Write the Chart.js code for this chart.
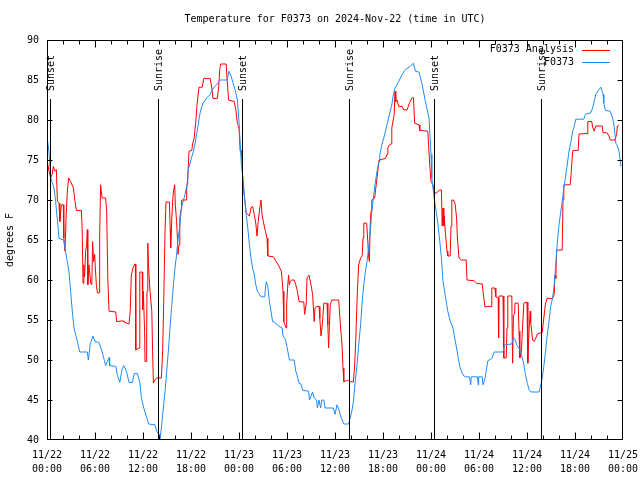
<!DOCTYPE html>
<html><head><meta charset="utf-8">
<script src="https://cdn.jsdelivr.net/npm/chart.js@4/dist/chart.umd.min.js"></script>
<style>html,body{margin:0;padding:0;background:#fff}canvas{display:block}</style>
</head><body>
<canvas id="c" width="640" height="480"></canvas>
<script>
const FONT = "'DejaVu Sans Mono', 'Liberation Mono', monospace";
const titleText = 'Temperature for F0373 on 2024-Nov-22 (time in UTC)';
const yAxisLabel = 'degrees F';
const seriesNames = ['F0373 Analysis', 'F0373'];
const seriesColors = ['#ff0000', '#1e8cf5'];
const dayLabels = ['11/22', '11/23', '11/24', '11/25'];
const timeLabels = ['00:00', '06:00', '12:00', '18:00'];

// hours since 11/22 00:00 UTC
const analysisHours = [0,0.25,0.46,0.65,0.8,1.0,1.17,1.3,1.5,1.6,1.8,2.04,2.1,2.25,2.4,2.54,2.7,2.96,3.3,3.5,3.67,4.3,4.4,4.5,4.6,4.7,4.83,4.96,5.04,5.1,5.25,5.46,5.6,5.7,5.83,5.96,6.04,6.17,6.3,6.5,6.58,6.7,6.8,6.9,7.33,7.46,7.6,7.75,8.6,8.7,9.5,9.6,10.25,10.4,10.54,10.75,10.96,11.05,11.1,11.5,11.6,11.9,11.96,12.04,12.2,12.25,12.375,12.46,12.5,12.6,12.7,12.875,13.1,13.2,13.3,13.5,13.7,14.3,14.46,14.6,14.75,14.875,15.3,15.4,15.46,15.6,15.7,15.8,15.96,16.04,16.2,16.3,16.375,16.5,16.6,16.75,16.83,17.4,17.46,17.6,17.75,18.1,18.2,18.4,18.6,18.75,19,19.4,19.6,20.4,20.6,20.75,21.3,21.46,21.6,21.7,22.4,22.5,22.7,23.4,23.6,23.8,24,24.1,24.15,24.3,24.46,24.6,24.8,24.875,25.3,25.5,25.7,25.9,26.1,26.25,26.4,26.6,26.75,26.875,27.1,27.3,27.5,27.6,28.3,28.6,28.9,29.1,29.3,29.5,29.6,29.9,29.96,30.1,30.2,30.3,30.4,30.6,30.9,31.1,31.3,31.5,32.1,32.2,32.4,32.5,32.75,33,33.2,33.4,33.5,33.75,34,34.1,34.25,34.4,34.6,35,35.1,35.2,35.4,35.6,36.46,36.7,36.875,37,37.1,37.7,37.9,38.3,38.46,38.6,38.8,38.96,39.2,39.4,39.5,39.6,39.96,40.1,40.2,40.3,40.4,40.5,40.6,40.96,41.04,41.25,41.5,42.3,42.5,42.6,42.8,43,43.1,43.4,43.5,43.6,43.75,43.96,44.4,44.6,45,45.3,45.6,45.8,45.96,46.5,46.6,47.6,47.75,47.9,48,48.25,48.4,48.7,49.1,49.3,49.4,49.5,49.6,49.65,49.8,50,50.1,50.4,50.5,50.6,50.8,51,51.2,51.3,51.5,51.8,52.4,52.5,53.4,53.7,54.4,54.6,54.75,55,55.5,55.6,56,56.1,56.4,56.45,56.5,57,57.1,57.4,57.5,57.6,58.1,58.2,58.3,58.45,58.5,58.9,59,59.1,59.3,59.4,59.6,60,60.1,60.25,60.4,60.46,60.7,60.875,61.1,61.3,61.7,61.9,62.1,62.3,62.5,63.2,63.4,63.5,63.6,63.7,64.4,64.5,64.6,65.4,65.5,65.7,65.75,66.4,66.5,67.5,67.6,68.1,68.2,68.4,68.6,69.4,69.5,70,70.25,70.4,71,71.2,71.3,71.5];
const analysisTemps = [75,73.6,72.8,73.2,74.2,73.6,73.8,69.8,69.6,67.3,69.4,69.4,65.25,63.6,68.2,71,72.75,72.3,71.5,69.8,68.7,68.7,66.3,59.6,61.9,60.4,63.6,64.4,66.3,59.4,61.9,59.6,59.4,64.8,62.3,63.2,61.5,59.4,58.4,58.4,65.25,71.9,71,70.25,70.25,68.6,60.25,56.1,56,54.8,54.9,54.75,54.5,56.1,60.6,61.5,62,62,51.25,51.5,61,61,56.3,58.6,53.6,49.8,49.8,53.6,58.6,64.6,61.5,58.6,56.1,51.1,47.1,47.5,47.75,47.75,51.3,57.75,66.1,69.75,69.75,66.4,64,67.75,69.8,71,71.9,69.4,67.3,65.25,63.2,64.4,67.75,68.8,70,70,71.5,72.75,76.1,76.2,77,77.75,79.8,81.9,84.1,84.1,85.2,85.2,84,82.7,82.7,84.2,86.3,87,87,85.25,82.5,82.3,81.3,79.6,79,79,76.1,76.2,72.75,71,69.4,68.4,68,69,69.2,68.2,67.1,65.5,67.3,69,70,68.2,67,66.1,65.25,63,62.9,62.4,61.9,61.5,61.1,58.6,54.8,54,57,59.4,60.6,59.4,59.8,60,60,59.4,58.6,57.3,57.25,55.7,57,60.25,60.6,59.4,58.2,54.8,56.5,56.7,56.7,55.25,53,54.2,57.1,57.1,54.4,51.5,56.9,57.5,57.5,54,51.9,49,47.3,47.5,47.3,47.25,49.4,52.75,58.6,61.9,62.75,63,65.25,67.1,67.1,64.8,63,62.3,66.9,68.6,70,70.25,71,72.75,75,75.2,75.7,76.5,76.9,77,79,80.7,83.6,82.3,82.5,81.7,81.7,81.25,81.25,82.1,82.75,82.8,79.6,79.4,78.7,78.6,76,73.5,72.3,71.9,70.9,70.9,71.25,71.25,66.75,69,66.75,68,65.9,63.6,63,63,66.75,70,70,69.6,67.75,65.25,62.75,62.5,62.5,60,59.9,59.6,59.5,57.75,56.6,56.7,56.7,59,59,57.9,57.75,52.75,58,58,50.25,50.25,54,58,58,49.6,55.6,55.7,57.1,57.1,53.6,50.25,51.1,53.2,57.1,57.25,49.6,53.6,56.1,54.75,52.5,52.3,52.75,53.25,53.4,53.4,55.25,57,57.7,57.7,58.2,60.6,60.2,63.75,63.75,70,71.9,71.9,73.1,76,76.2,76.2,78.25,78.3,79.8,79.8,79.1,78.6,79.25,79.25,78.4,78.4,78,77.5,77.5,78.2,79.25,79.4];

const stationHours = [0,0.25,0.46,0.875,1.08,1.3,1.5,2.1,2.33,2.54,2.75,2.96,3.17,3.375,3.8,4.1,5.04,5.17,5.4,5.75,6,6.5,6.9,7.33,7.75,7.83,8.6,8.8,9.1,9.4,9.6,9.96,10.25,10.67,10.9,11.3,11.6,11.8,12.1,12.4,12.7,13.5,13.7,14,14.1,14.3,14.5,14.75,14.96,15.2,15.4,15.6,15.8,16,16.2,16.4,16.6,16.8,17.25,17.5,17.6,17.875,18.1,18.3,18.5,18.7,18.9,19.1,19.3,19.5,19.96,20.4,20.8,21.2,21.6,22.5,22.75,23,23.5,23.8,24,24.2,24.3,24.5,24.7,24.9,25.1,25.3,25.5,25.7,25.9,26.1,26.3,26.75,27.2,27.4,27.6,27.8,28,28.2,28.4,29,29.4,29.5,29.8,30.1,30.3,30.9,31.1,31.3,31.5,31.75,31.96,32.7,32.8,33,33.2,33.4,33.7,33.8,34,34.2,34.35,34.6,34.75,35.8,36,36.25,36.46,36.7,37.1,37.7,37.9,38.1,38.3,38.5,38.75,38.96,39.2,39.4,39.6,39.8,40,40.2,40.4,40.6,40.8,41,41.25,41.5,41.6,41.875,42.1,42.3,42.5,42.7,42.9,43.1,43.3,43.5,43.96,44.4,44.8,45.4,45.8,46.04,46.5,46.9,47.3,47.75,47.9,48,48.1,48.4,48.7,48.875,49.1,49.3,49.5,49.7,49.96,50.1,50.3,50.5,50.75,50.96,51.2,51.4,51.6,51.8,52,52.3,52.8,52.96,53.04,53.8,53.9,53.96,54.4,54.5,54.75,54.96,55.1,55.6,55.9,57,57.2,58.1,58.3,58.5,58.7,59,59.3,59.6,59.8,60.04,60.25,60.5,61.5,61.7,61.9,62.1,62.3,62.5,62.75,62.96,63.2,63.4,63.6,63.8,64,64.25,64.4,64.6,64.8,65,65.25,65.5,65.7,65.875,66.1,67.1,67.3,67.96,68.2,68.4,68.6,69,69.25,69.5,69.6,69.8,70.4,70.7,70.9,71.1,71.3,71.5,71.75];
const stationTemps = [78,76,72.8,71.5,69.8,67.5,65.2,65,63.5,62.3,61,58.5,56,54,52.3,51,51,50,52,53,52.3,52.2,51,49.3,50.3,49.3,49.2,48.1,47.2,48.9,49.3,48.5,47.2,47.2,48.3,48.3,47.2,45.3,44,43,42,41.9,41.1,40.7,40,41.5,43.6,46,48.6,51.5,54.4,56.9,59.4,61.5,63.2,65.25,66.7,69,70.7,71.9,73.6,74.6,75.4,76.1,77,78.2,79.4,80.7,81.5,82.1,82.75,83.2,84,84.4,85,85,86.1,85.5,83.8,82.5,79.8,76.1,74.4,72.75,70.25,68.2,66.5,64.4,62.75,61.5,60.7,59.4,58.6,57.9,57.9,59.8,59.2,57.3,56.1,54.8,54.75,54.2,54,53,52.6,51.1,50,50,48.6,48,47.1,47,46.2,46.1,45,45.5,46,45.25,45,44,45,44,45,45,44,44,43.2,44.4,43.9,43,42,42,42.75,43.6,44.8,47,49.4,51.9,54.4,57.3,59.4,61.1,62.3,64,65.9,68.6,70.25,71.9,73.6,74.8,75.7,77,77.75,78.6,79.4,80.25,81.1,81.9,83.2,84,84.8,85.7,86.3,86.7,87.1,86.1,86,84.4,82.3,80.25,77.5,75.7,72.75,70.25,68.2,66.9,64.8,62.75,59.8,58.6,56.9,56.1,55.25,54.6,54,52.75,51.5,50.25,49.2,48.6,48.1,47.9,47.9,46.9,47.9,47.9,46.9,47.9,47.9,46.9,47.7,49,49.9,50.2,51,51,51.9,52,52.8,52.6,51.9,51.5,50.7,49.5,48.2,47.1,46.3,46,46,46.75,47.75,49.2,50.9,52.9,54.8,56.7,57.75,59.4,61.9,64.8,66.9,68.75,69.8,71.5,72.75,74.2,76.1,77.3,78.6,79.1,80.1,80.1,80.7,80.9,81.5,82.3,83.25,83.8,84.1,83.2,82.1,81.2,81.1,80.25,79.2,77.1,76.8,76.1,74.2];

const sunHours = [0.32, 13.88, 24.32, 37.8, 48.32, 61.8];
const sunLabels = ['Sunset', 'Sunrise', 'Sunset', 'Sunrise', 'Sunset', 'Sunrise'];

const toPoints = (xs, ys) => xs.map((h, i) => ({x: h, y: ys[i]}));

const frameTicks = {
  id: 'frameTicks',
  afterDatasetsDraw(chart) {
    const {ctx, chartArea: a, scales: {x, y}} = chart;
    const L = Math.round(a.left) + 0.5, R = Math.round(a.right) - 0.5;
    const T = Math.round(a.top) + 0.5, B = Math.round(a.bottom) - 0.5;
    ctx.save();
    ctx.strokeStyle = '#000';
    ctx.lineWidth = 1;
    ctx.beginPath();
    for (let h = x.min; h <= x.max; h += 2) {
      const px = Math.min(R, Math.round(x.getPixelForValue(h)) + 0.5);
      const len = (h % 6 === 0) ? 7 : 4;
      ctx.moveTo(px, B); ctx.lineTo(px, B - len);
      ctx.moveTo(px, T); ctx.lineTo(px, T + len);
    }
    for (let v = y.min; v <= y.max; v += 5) {
      const py = Math.min(B, Math.round(y.getPixelForValue(v)) + 0.5);
      ctx.moveTo(L, py); ctx.lineTo(L + 5, py);
      ctx.moveTo(R, py); ctx.lineTo(R - 5, py);
    }
    ctx.stroke();
    ctx.strokeRect(L, T, R - L, B - T);
    ctx.restore();
  }
};

const sunMarks = {
  id: 'sunMarks',
  afterDatasetsDraw(chart) {
    const {ctx, chartArea: a, scales: {x}} = chart;
    ctx.save();
    ctx.strokeStyle = '#000';
    ctx.fillStyle = '#000';
    ctx.lineWidth = 1;
    ctx.font = '10px ' + FONT;
    sunHours.forEach((h, i) => {
      const px = Math.round(x.getPixelForValue(h)) + 0.5;
      ctx.beginPath();
      ctx.moveTo(px, a.top + 59);
      ctx.lineTo(px, a.bottom);
      ctx.stroke();
      ctx.save();
      ctx.translate(px + 1, a.top + 51);
      ctx.rotate(-Math.PI / 2);
      ctx.textAlign = 'left';
      ctx.textBaseline = 'middle';
      ctx.fillText(sunLabels[i], 0, 0);
      ctx.restore();
    });
    ctx.restore();
  }
};

const insideLegend = {
  id: 'insideLegend',
  afterDraw(chart) {
    const {ctx, chartArea: a} = chart;
    ctx.save();
    ctx.font = '10px ' + FONT;
    ctx.textAlign = 'right';
    ctx.textBaseline = 'middle';
    [0, 1].forEach((k, row) => {
      const ds = chart.data.datasets[k];
      const yy = a.top + 9.5 + row * 12.5;
      ctx.fillStyle = '#000';
      ctx.fillText(ds.label, a.right - 49, yy);
      ctx.strokeStyle = ds.borderColor;
      ctx.lineWidth = 1;
      ctx.beginPath();
      const ly = Math.round(yy) + 0.5;
      ctx.moveTo(a.right - 41, ly);
      ctx.lineTo(a.right - 13, ly);
      ctx.stroke();
    });
    ctx.restore();
  }
};

new Chart(document.getElementById('c'), {
  type: 'line',
  data: {
    datasets: [
      {label: seriesNames[0], data: toPoints(analysisHours, analysisTemps), borderColor: seriesColors[0], backgroundColor: seriesColors[0], borderWidth: 1, pointRadius: 0, tension: 0, fill: false, order: 1},
      {label: seriesNames[1], data: toPoints(stationHours, stationTemps), borderColor: seriesColors[1], backgroundColor: seriesColors[1], borderWidth: 1, pointRadius: 0, tension: 0, fill: false, order: 0}
    ]
  },
  options: {
    responsive: false,
    animation: false,
    events: [],
    layout: {padding: {left: 0, right: 17, top: 0, bottom: 0}},
    plugins: {
      legend: {display: false},
      tooltip: {enabled: false},
      title: {
        display: true, text: titleText, color: '#000', fullSize: false,
        font: {family: FONT, size: 10, weight: 'normal', lineHeight: 1.2},
        padding: {top: 13, bottom: 15}
      }
    },
    scales: {
      x: {
        type: 'linear', min: 0, max: 72,
        grid: {display: false, drawTicks: false},
        border: {display: false},
        ticks: {
          stepSize: 6, autoSkip: false, maxRotation: 0, minRotation: 0, padding: 8,
          color: '#000', font: {family: FONT, size: 10, lineHeight: 1.45},
          callback: (v) => {
            const d = Math.floor(v / 24), t = (v % 24) / 6;
            return [dayLabels[d], timeLabels[t]];
          }
        },
        afterFit: (s) => { s.height = 40; s.paddingLeft = 0; s.paddingRight = 0; }
      },
      y: {
        type: 'linear', min: 40, max: 90,
        grid: {display: false, drawTicks: false},
        border: {display: false},
        ticks: {stepSize: 5, padding: 8, color: '#000', font: {family: FONT, size: 10}},
        title: {display: true, text: yAxisLabel, color: '#000', font: {family: FONT, size: 10, lineHeight: 1.2}, padding: {top: 4, bottom: 0}},
        afterFit: (s) => { s.width = 47; s.paddingTop = 0; s.paddingBottom = 0; }
      }
    }
  },
  plugins: [frameTicks, sunMarks, insideLegend]
});
</script>
</body></html>
